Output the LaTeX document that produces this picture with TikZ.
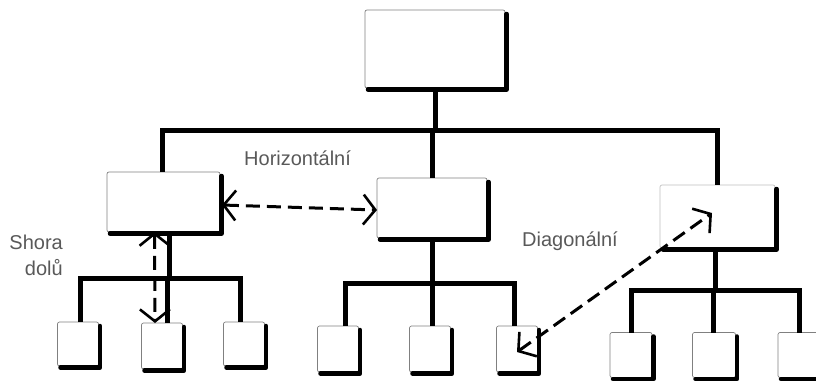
\documentclass[tikz,border=0pt]{standalone}
\usepackage{fontspec}
\setmainfont{Liberation Sans}
\usetikzlibrary{arrows.meta}
\begin{document}
\begin{tikzpicture}[x=1pt,y=-1pt,
  unit/.style 2 args={draw=black!50, line width=0.7pt, rounded corners=2pt,
    minimum width=#1, minimum height=#2, inner sep=0pt, outer sep=0pt},
  faint/.style={draw=black!25},
  shade/.style={line width=4.5pt, line join=round, line cap=round},
  tree/.style={line width=5pt, line join=miter},
  barb/.tip={Straight Barb[length=12pt,width=30pt,line width=2.6pt]},
  link/.style={line width=3pt, dash pattern=on 14pt off 7pt, barb-barb},
  lbl/.style={text=black!65, font=\fontsize{20}{24}\selectfont, inner sep=0pt}]
\useasboundingbox (0,0) rectangle (816,381);

% units of the organisation
\node[unit={140pt}{78pt}] (top) at (435,49) {};
\node[unit={113pt}{60pt}] (L) at (163.5,202) {};
\node[unit={110pt}{60pt}] (M) at (432,208) {};
\node[unit={115pt}{63pt}, faint] (R) at (717.5,216.5) {};

\node[unit={41pt}{44pt}] (L1) at (78,344) {};
\node[unit={41pt}{46pt}] (L2) at (162,346) {};
\node[unit={41pt}{44pt}] (L3) at (244,344) {};
\node[unit={41pt}{46pt}] (M1) at (338,349) {};
\node[unit={41pt}{46pt}] (M2) at (430,349) {};
\node[unit={41pt}{46pt}] (M3) at (517,349) {};
\node[unit={42pt}{45pt}] (R1) at (631,355) {};
\node[unit={43pt}{45pt}] (R2) at (714,355) {};
\node[unit={42pt}{45pt}] (R3) at (799,355) {};

% heavy shadow on the lower and right edges
\foreach \n in {top,L,M,R,L1,L2,L3,M1,M2,M3,R1,R2,R3}
  \draw[shade] ([shift={(1.5pt,-4pt)}]\n.north east) -- ([shift={(1.5pt,-1.5pt)}]\n.south east)
    -- ([shift={(3pt,-1.5pt)}]\n.south west);

% hierarchy lines
\coordinate (bus0) at (0,130);
\coordinate (busL) at (0,278);
\coordinate (busM) at (0,283);
\coordinate (busR) at (0,290);

\draw[tree] (top.south) -- (top.south |- bus0);
\draw[tree] ([xshift=-1pt]L.north) |- (bus0 -| R.north) -- (R.north);
\draw[tree] (M.north) -- (M.north |- bus0);

\draw[tree] ([xshift=6pt]L.south) -- ([xshift=6pt]L.south |- busL);
\draw[tree] ([xshift=2pt]L1.north) |- ([xshift=-4pt]L3.north |- busL) -- ([xshift=-4pt]L3.north);
\draw[tree] ([xshift=5pt]L2.north) -- ([xshift=5pt]L2.north |- busL);

\draw[tree] (M.south) -- (M.south |- busM);
\draw[tree] ([xshift=7pt]M1.north) |- ([xshift=-3pt]M3.north |- busM) -- ([xshift=-3pt]M3.north);
\draw[tree] ([xshift=2pt]M2.north) -- ([xshift=2pt]M2.north |- busM);

\draw[tree] ([xshift=-2pt]R.south) -- ([xshift=-2pt]R.south |- busR);
\draw[tree] (R1.north) |- (R3.north |- busR) -- (R3.north);
\draw[tree] ([xshift=-1pt]R2.north) -- ([xshift=-1pt]R2.north |- busR);

% communication links
\draw[link] ([shift={(2pt,-3pt)}]L.east) -- ([shift={(0pt,-2pt)}]M.west);
\draw[link] ([xshift=-9pt]L.south) -- ([xshift=-7pt]L2.north);
\coordinate (dA) at (517,352);
\coordinate (dB) at (712,213);
\draw[link] (dA) -- (dB);

% labels
\node[lbl, anchor=west] (lblH) at (244,158) {Horizontální};
\node[lbl, align=right, anchor=east, font=\fontsize{20}{26}\selectfont] (lblV) at (63,255) {Shora\\dolů};
\node[lbl, anchor=west] (lblD) at (522,241) {Diagonální};
\end{tikzpicture}
\end{document}
